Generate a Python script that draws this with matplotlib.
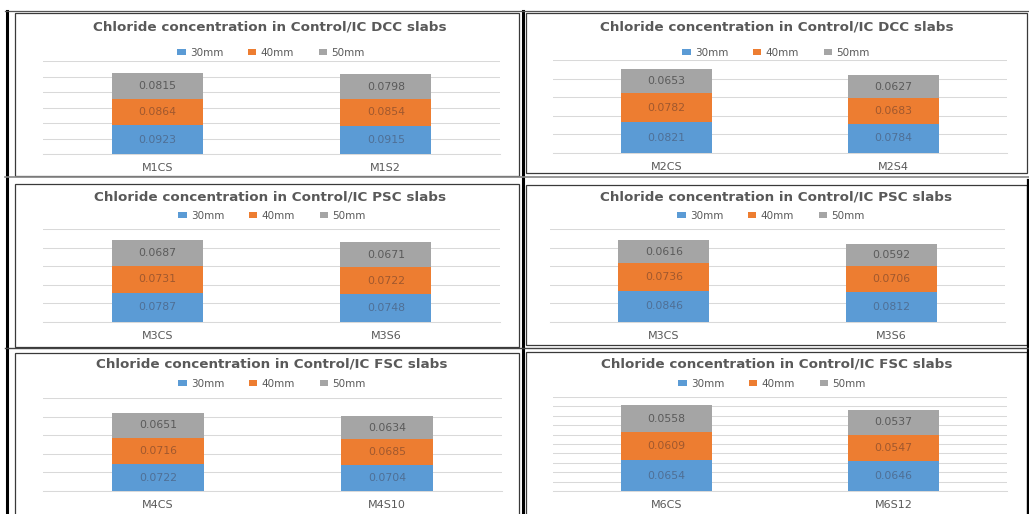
import matplotlib.pyplot as plt
from matplotlib.lines import Line2D
from matplotlib.patches import Rectangle

W, H = 1029, 514

# ---- data ----
titles = [
    "Chloride concentration in Control/IC DCC slabs",
    "Chloride concentration in Control/IC DCC slabs",
    "Chloride concentration in Control/IC PSC slabs",
    "Chloride concentration in Control/IC PSC slabs",
    "Chloride concentration in Control/IC FSC slabs",
    "Chloride concentration in Control/IC FSC slabs",
]
categories = [
    ["M1CS", "M1S2"],
    ["M2CS", "M2S4"],
    ["M3CS", "M3S6"],
    ["M3CS", "M3S6"],
    ["M4CS", "M4S10"],
    ["M6CS", "M6S12"],
]
depth_30mm = [
    [0.0923, 0.0915],
    [0.0821, 0.0784],
    [0.0787, 0.0748],
    [0.0846, 0.0812],
    [0.0722, 0.0704],
    [0.0654, 0.0646],
]
depth_40mm = [
    [0.0864, 0.0854],
    [0.0782, 0.0683],
    [0.0731, 0.0722],
    [0.0736, 0.0706],
    [0.0716, 0.0685],
    [0.0609, 0.0547],
]
depth_50mm = [
    [0.0815, 0.0798],
    [0.0653, 0.0627],
    [0.0687, 0.0671],
    [0.0616, 0.0592],
    [0.0651, 0.0634],
    [0.0558, 0.0537],
]
series_names = ["30mm", "40mm", "50mm"]
y_max = [0.30, 0.25, 0.25, 0.25, 0.25, 0.20]
y_step = [0.05, 0.05, 0.05, 0.05, 0.05, 0.02]

# ---- style / layout ----
colors = ["#5B9BD5", "#ED7D31", "#A5A5A5"]
label_colors = ["#4F6F95", "#A0582E", "#5A5A5A"]
text_grey = "#595959"
FONT = "DejaVu Sans"

# plot area in pixels: left, top, right, bottom (baseline)
plot_px = [
    (43, 61, 500, 154),
    (553, 60, 1007, 153),
    (43, 229, 500, 322),
    (550, 229, 1005, 322),
    (43, 398, 502, 491),
    (553, 397, 1007, 491),
]
title_px = [(270, 27), (777, 27), (270, 197), (776, 197), (272, 364), (777, 364)]
legend_px = [(271, 53), (776, 53), (272, 216), (771, 216), (272, 384), (772, 384)]
box_px = [
    (15, 13, 519, 176),
    (526, 13, 1027, 173),
    (15, 184, 519, 347),
    (526, 185, 1027, 345),
    (15, 353, 519, 520),
    (526, 352, 1027, 520),
]


def fx(x):
    return x / W


def fy(y):
    return 1 - y / H


fig = plt.figure(figsize=(W / 100, H / 100), dpi=100)
fig.patch.set_facecolor("white")

# chart frames
for (l, t, r, b) in box_px:
    fig.patches.append(Rectangle((fx(l), fy(b)), fx(r - l), (b - t) / H,
                                 transform=fig.transFigure, fill=False,
                                 edgecolor="#3a3a3a", linewidth=0.9))

# table lines around the charts
table_lines = [
    ((6.5, 6.5), (11, 514), "black", 2.2),
    ((523, 523), (11, 514), "black", 2.2),
    ((1027.5, 1027.5), (180, 514), "black", 1.6),
    ((5, 1029), (11, 11), "#555555", 0.9),
    ((5, 1029), (177, 177), "#888888", 1.2),
    ((5, 1029), (348, 348), "#444444", 1.0),
]
for xs, ys, c, lw in table_lines:
    fig.lines.append(Line2D([fx(v) for v in xs], [fy(v) for v in ys],
                            transform=fig.transFigure, color=c, linewidth=lw))

for i in range(6):
    l, t, r, b = plot_px[i]
    ax = fig.add_axes([fx(l), fy(b), fx(r - l), (b - t) / H])
    cats = categories[i]
    xs = range(len(cats))
    bottoms = [0.0] * len(cats)
    handles = []
    for vals, name, c, lc in zip([depth_30mm[i], depth_40mm[i], depth_50mm[i]],
                                 series_names, colors, label_colors):
        bars = ax.bar(xs, vals, width=0.4, bottom=bottoms, color=c, label=name,
                      zorder=3)
        ax.bar_label(bars, labels=[f"{v:.4f}" for v in vals], label_type="center",
                     fontsize=7.8, color=lc, family=FONT)
        handles.append(bars)
        bottoms = [a + v for a, v in zip(bottoms, vals)]

    ax.set_xlim(-0.5, len(cats) - 0.5)
    ax.set_ylim(0, y_max[i])
    n = int(round(y_max[i] / y_step[i]))
    ax.set_yticks([k * y_step[i] for k in range(n + 1)])
    ax.yaxis.grid(True, color="#D9D9D9", linewidth=0.75, zorder=0)
    ax.tick_params(axis="y", left=False, labelleft=False)
    ax.tick_params(axis="x", bottom=False, pad=3, labelsize=8, labelcolor=text_grey)
    ax.set_xticks(list(xs))
    ax.set_xticklabels(cats, family=FONT)
    for s in ["top", "right", "left"]:
        ax.spines[s].set_visible(False)
    ax.spines["bottom"].set_color("#D9D9D9")
    ax.spines["bottom"].set_linewidth(0.75)
    ax.patch.set_alpha(0)

    tx, ty = title_px[i]
    fig.text(fx(tx), fy(ty), titles[i], ha="center", va="center",
             fontsize=9.7, fontweight="bold", color=text_grey, family=FONT)
    lx, ly = legend_px[i]
    fig.legend(handles=handles, loc="center", bbox_to_anchor=(fx(lx), fy(ly)),
               ncol=3, frameon=False, labelcolor=text_grey,
               handlelength=0.8, handleheight=0.45, handletextpad=0.4,
               columnspacing=2.4, prop={"family": FONT, "size": 7.5})

fig.savefig("out.png", dpi=100)
